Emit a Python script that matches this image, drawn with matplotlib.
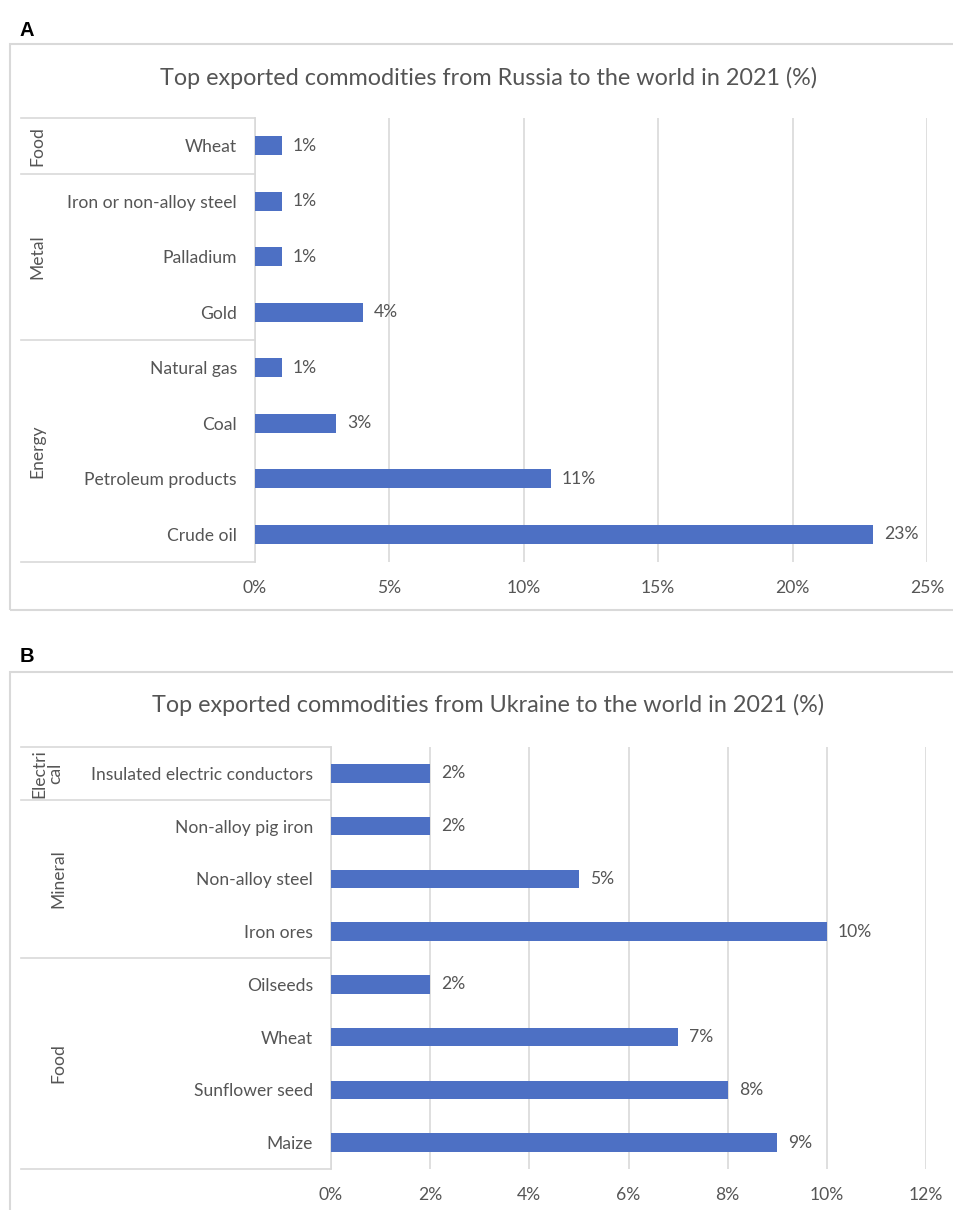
import matplotlib.pyplot as plt
from matplotlib.patches import Rectangle
from matplotlib.transforms import blended_transform_factory

plt.rcParams['font.family'] = ['Lato', 'DejaVu Sans']

# Russia (panel A), bottom to top
ru_items = ['Crude oil', 'Petroleum products', 'Coal', 'Natural gas',
            'Gold', 'Palladium', 'Iron or non-alloy steel', 'Wheat']
ru_values = [23, 11, 3, 1, 4, 1, 1, 1]
ru_groups = ['Energy', 'Metal', 'Food']
ru_group_sizes = [4, 3, 1]
ru_ticks = [0, 5, 10, 15, 20, 25]

# Ukraine (panel B), bottom to top
ua_items = ['Maize', 'Sunflower seed', 'Wheat', 'Oilseeds',
            'Iron ores', 'Non-alloy steel', 'Non-alloy pig iron',
            'Insulated electric conductors']
ua_values = [9, 8, 7, 2, 10, 5, 2, 2]
ua_groups = ['Food', 'Mineral', 'Electri\ncal']
ua_group_sizes = [4, 3, 1]
ua_ticks = [0, 2, 4, 6, 8, 10, 12]

W, H = 954, 1210
GREY = '#555555'
LINE = '#D9D9D9'
BAR = '#4D70C4'
FS = 12.6

fig = plt.figure(figsize=(W / 100, H / 100), dpi=100)


def fx(px):
    return px / W


def fy(py):
    return 1 - py / H


def panel(letter, title, items, values, groups, sizes, ticks,
          box_top, box_bot, title_y, letter_y, ax_x0, ax_x1, ax_y0, ax_y1,
          group_x):
    fig.text(fx(20), fy(letter_y), letter, fontsize=14.5, fontweight='bold',
             family=['Liberation Sans', 'DejaVu Sans'], va='center', ha='left')
    fig.patches.append(Rectangle((fx(10), fy(box_bot)), fx(960) - fx(10),
                                 fy(box_top) - fy(box_bot),
                                 transform=fig.transFigure, fill=False,
                                 edgecolor=LINE, lw=1.5))
    fig.text(fx(488), fy(title_y), title, fontsize=16.8, color=GREY,
             ha='center', va='center')

    ax = fig.add_axes([fx(ax_x0), fy(ax_y1), fx(ax_x1) - fx(ax_x0),
                       fy(ax_y0) - fy(ax_y1)])
    y = list(range(len(items)))
    ax.barh(y, values, height=0.35, color=BAR, zorder=3)
    for yi, v in zip(y, values):
        ax.annotate(f'{v}%', (v, yi), xytext=(8, 0), textcoords='offset points',
                    va='center', ha='left', fontsize=FS, color=GREY)

    ax.set_xlim(ticks[0], ticks[-1])
    ax.set_ylim(-0.5, len(items) - 0.5)
    ax.set_xticks(ticks)
    ax.set_xticklabels([f'{t}%' for t in ticks])
    ax.set_yticks(y)
    ax.set_yticklabels(items)
    ax.tick_params(length=0, labelsize=FS, labelcolor=GREY)
    ax.tick_params(axis='x', pad=13)
    ax.tick_params(axis='y', pad=13)
    ax.grid(axis='x', color=LINE, lw=1.2, zorder=0)
    for s in ['top', 'right', 'bottom']:
        ax.spines[s].set_visible(False)
    ax.spines['left'].set_color(LINE)
    ax.spines['left'].set_linewidth(1.2)

    tr = blended_transform_factory(fig.transFigure, ax.transData)
    edges = [-0.5]
    for n in sizes:
        edges.append(edges[-1] + n)
    for e in edges:
        ax.plot([fx(21), fx(ax_x0)], [e, e], transform=tr, color=LINE,
                lw=1.2, clip_on=False)
    for g, lo, hi, gx in zip(groups, edges[:-1], edges[1:], group_x):
        ax.text(fx(gx), (lo + hi) / 2, g, transform=tr, rotation=90,
                ha='center', va='center', fontsize=FS, color=GREY,
                linespacing=1.0)
    return ax


panel('A', 'Top exported commodities from Russia to the world in 2021 (%)',
      ru_items, ru_values, ru_groups, ru_group_sizes, ru_ticks,
      box_top=44, box_bot=610, title_y=78, letter_y=30,
      ax_x0=255, ax_x1=927, ax_y0=118, ax_y1=562,
      group_x=[37, 37, 37])

panel('B', 'Top exported commodities from Ukraine to the world in 2021 (%)',
      ua_items, ua_values, ua_groups, ua_group_sizes, ua_ticks,
      box_top=672, box_bot=1230, title_y=705, letter_y=657,
      ax_x0=331, ax_x1=926, ax_y0=747, ax_y1=1169,
      group_x=[58, 58, 47])

fig.savefig('out.png', dpi=100)
